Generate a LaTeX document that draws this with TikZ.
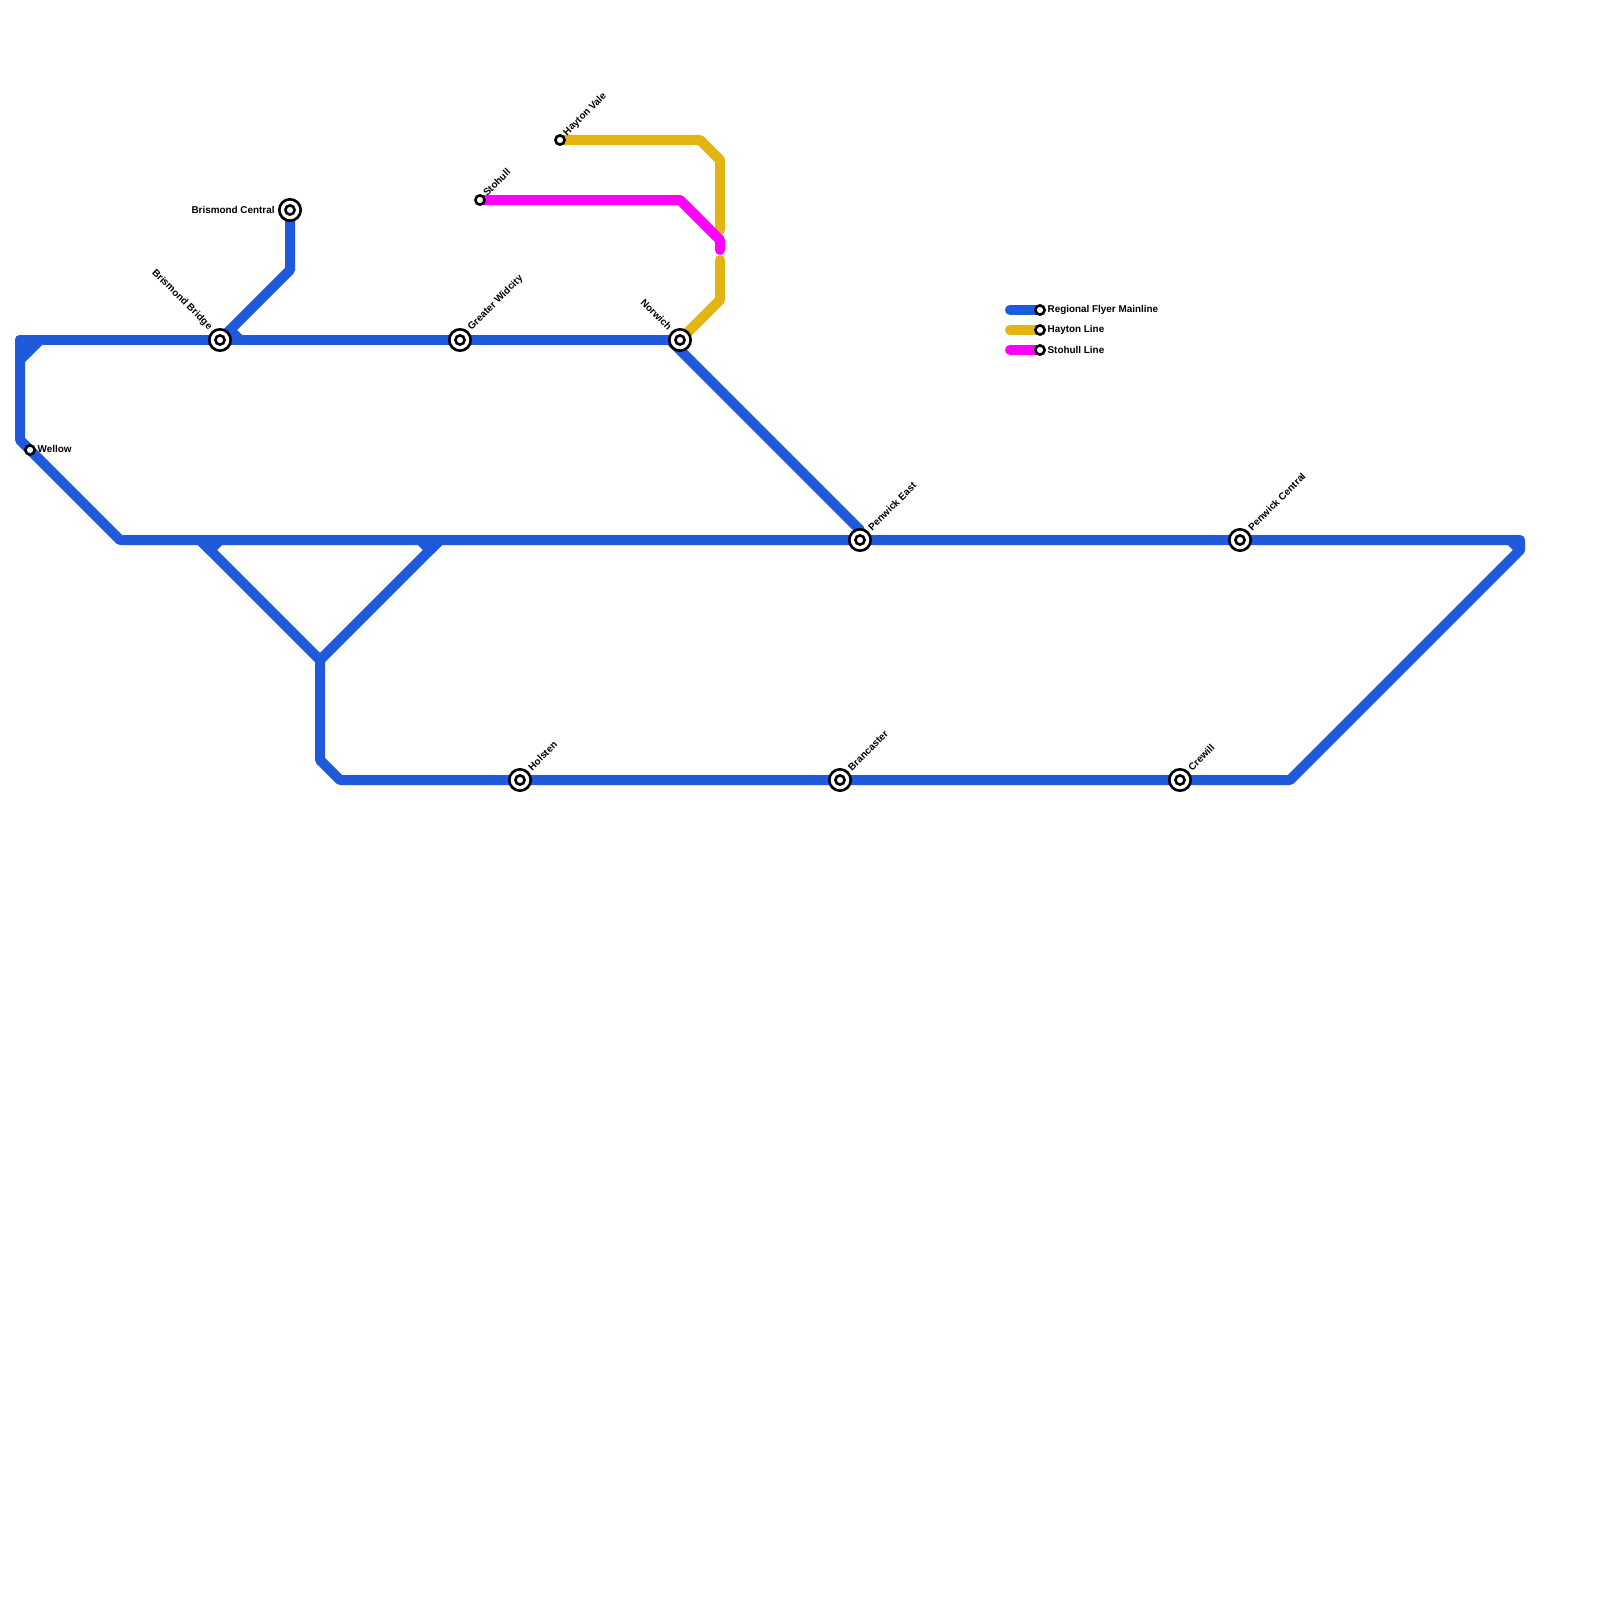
\documentclass[tikz,border=0pt]{standalone}
\usepackage{fontspec}
\usetikzlibrary{calc}
\setmainfont{Liberation Sans}
\begin{document}
\begin{tikzpicture}[x=0.5pt,y=-0.5pt,
  track/.style={line width=5pt,line cap=round,line join=round},
  mainline/.style={track,draw=lineblue},
  mainfill/.style={track,draw=lineblue,fill=lineblue},
  hayton/.style={track,draw=linegold},
  stohull/.style={track,draw=linepink},
  ringbig/.style={circle,draw=black,fill=white,line width=1.3pt,minimum size=10.7pt,inner sep=0pt,outer sep=0pt},
  ringsmall/.style={circle,draw=black,fill=white,line width=1.3pt,minimum size=4.6pt,inner sep=0pt,outer sep=0pt},
  lbl/.style={font=\bfseries\fontsize{4.95pt}{5.5pt}\selectfont,inner sep=0pt,text=black},
  lblr/.style={lbl,anchor=west},
  lbll/.style={lbl,anchor=east},
  lblup/.style={lbl,anchor=west,rotate=45},
  lblback/.style={lbl,anchor=east,rotate=-45}]
\definecolor{lineblue}{HTML}{1F5ADC}
\definecolor{linegold}{HTML}{E3B512}
\definecolor{linepink}{HTML}{FF00FF}
\useasboundingbox (0,0) rectangle (1600,1600);
\fill[white] (0,0) rectangle (1600,1600);
% station positions
\coordinate (BC) at (290,210);
\coordinate (BB) at (220,340);
\coordinate (GW) at (460,340);
\coordinate (NO) at (680,340);
\coordinate (HV) at (560,140);
\coordinate (ST) at (480,200);
\coordinate (WE) at (30,450);
\coordinate (PE) at (860,540);
\coordinate (PC) at (1240,540);
\coordinate (HO) at (520,780);
\coordinate (BR) at (840,780);
\coordinate (CR) at (1180,780);
\coordinate (K1) at (1040,310);
\coordinate (K2) at (1040,330);
\coordinate (K3) at (1040,350);
\coordinate (K1s) at (1010,310);
\coordinate (K2s) at (1010,330);
\coordinate (K3s) at (1010,350);
% bend points
\coordinate (TL) at (20,340);
\coordinate (TLa) at (40,340);
\coordinate (TLb) at (20,360);
\coordinate (LB) at (20,440);
\coordinate (ML) at (120,540);
\coordinate (MR) at (1520,540);
\coordinate (MRa) at (1520,550);
\coordinate (MRb) at (1510,540);
\coordinate (BOr) at (1290,780);
\coordinate (BOl) at (340,780);
\coordinate (VB) at (320,760);
\coordinate (VT) at (320,660);
\coordinate (YL) at (200,540);
\coordinate (YLa) at (210,550);
\coordinate (YLb) at (220,540);
\coordinate (YR) at (440,540);
\coordinate (YRa) at (430,550);
\coordinate (YRb) at (420,540);
\coordinate (BCa) at (290,270);
\coordinate (BBa) at (230,330);
\coordinate (BBb) at (240,340);
\coordinate (NOb) at (670,340);
\coordinate (NOa) at (860,530);
\coordinate (Ha) at (700,140);
\coordinate (Hb) at (720,160);
\coordinate (Hc) at (720,230);
\coordinate (Hd) at (720,260);
\coordinate (He) at (720,300);
\coordinate (Sa) at (680,200);
\coordinate (Sb) at (720,240);
\coordinate (Sc) at (720,250);
% lines
\draw[hayton] (HV) -- (Ha) -- (Hb) -- (Hc);
\draw[hayton] (Hd) -- (He) -- (NO);
\draw[stohull] (ST) -- (Sa) -- (Sb) -- (Sc);
\draw[mainline] (TL) -- (LB) -- (ML) -- (MR) -- (MRa) -- (BOr) -- (BOl) -- (VB) -- (VT) -- (YL);
\draw[mainfill] (TL) -- (TLa) -- (TLb) -- cycle;
\draw[mainline] (VT) -- (YR);
\draw[mainfill] (YL) -- (YLb) -- (YLa) -- cycle;
\draw[mainfill] (YR) -- (YRb) -- (YRa) -- cycle;
\draw[mainline] (MRb) -- (MRa);
\draw[mainline] (TLa) -- (NO);
\draw[mainline] (NOb) -- (NOa) -- (PE);
\draw[mainline] (BC) -- (BCa) -- (BBa) -- (BBb);
\draw[mainline] (BBa) -- (BB);
\draw[mainline] (K1s) -- (K1);
\draw[hayton] (K2s) -- (K2);
\draw[stohull] (K3s) -- (K3);
% interchange stations
\foreach \s in {BC,BB,GW,NO,PE,PC,HO,BR,CR}{
  \node[ringbig] (\s-o) at (\s) {};
  \node[ringsmall] (\s-i) at (\s) {};
}
% plain stations
\foreach \s in {HV,ST,WE,K1,K2,K3}{
  \node[ringsmall] (\s-i) at (\s) {};
}
% labels
\node[lbll] (tBC) at ($(BC)+(-15,-0.5)$) {Brismond Central};
\node[lblback] (tBB) at ($(BB)+(-9.5,-11.5)$) {Brismond Bridge};
\node[lblback] (tNO) at ($(NO)+(-9.5,-11.5)$) {Norwich};
\node[lblup] (tGW) at ($(GW)+(9.5,-11)$) {Greater Widcity};
\node[lblup] (tPE) at ($(PE)+(9.5,-11)$) {Penwick East};
\node[lblup] (tPC) at ($(PC)+(9.5,-11)$) {Penwick Central};
\node[lblup] (tHO) at ($(HO)+(9.5,-11)$) {Holsten};
\node[lblup] (tBR) at ($(BR)+(9.5,-11)$) {Brancaster};
\node[lblup] (tCR) at ($(CR)+(9.5,-11)$) {Crewill};
\node[lblup] (tHV) at ($(HV)+(5,-5.5)$) {Hayton Vale};
\node[lblup] (tST) at ($(ST)+(4.5,-5.5)$) {Stohull};
\node[lblr] (tWE) at ($(WE)+(7.2,-1)$) {Wellow};
\node[lblr] (tK1) at ($(K1)+(7.2,-0.5)$) {Regional Flyer Mainline};
\node[lblr] (tK2) at ($(K2)+(7.2,-0.5)$) {Hayton Line};
\node[lblr] (tK3) at ($(K3)+(7.2,-0.5)$) {Stohull Line};
\end{tikzpicture}
\end{document}
